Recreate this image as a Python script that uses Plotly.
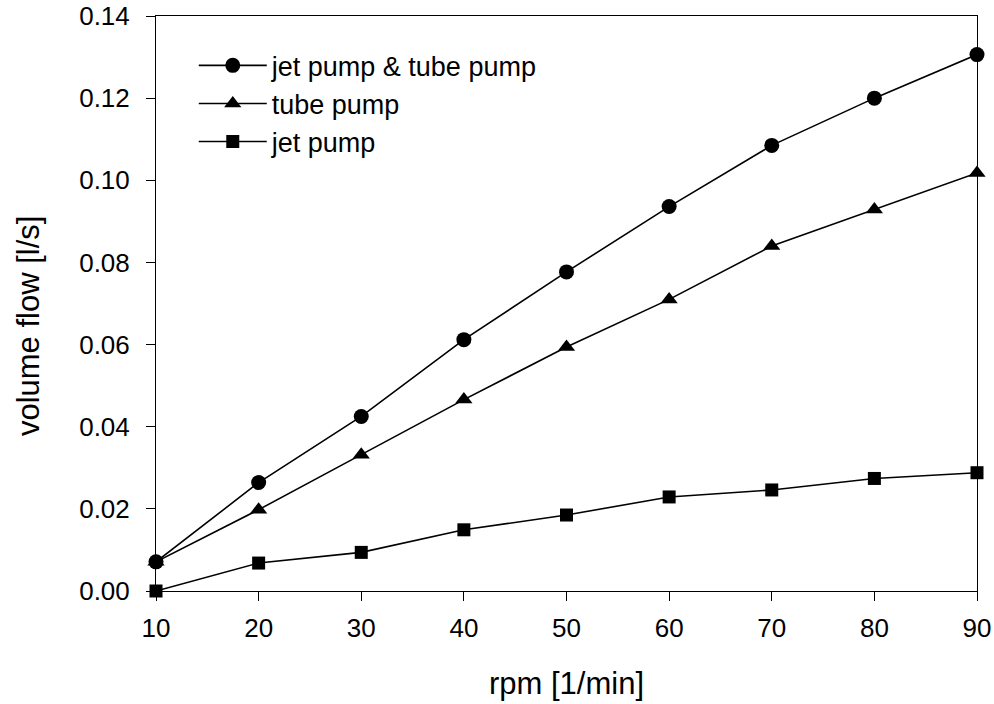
import plotly.graph_objects as go

# rotational speed [1/min]
rpm = [10, 20, 30, 40, 50, 60, 70, 80, 90]

# volume flow [l/s] for each pump configuration
flow_combined = [0.0071, 0.0264, 0.0425, 0.0612, 0.0777, 0.0936, 0.1085, 0.1200, 0.1306]
flow_tube = [0.0071, 0.0198, 0.0332, 0.0466, 0.0594, 0.0710, 0.0840, 0.0929, 0.1018]
flow_jet = [0.0000, 0.0068, 0.0094, 0.0149, 0.0185, 0.0229, 0.0246, 0.0274, 0.0288]

series_names = ["jet pump & tube pump", "tube pump", "jet pump"]
series_values = [flow_combined, flow_tube, flow_jet]
series_symbols = ["circle", "triangle-up", "square"]
series_sizes = [15, 15, 13]

x_ticks = [10, 20, 30, 40, 50, 60, 70, 80, 90]
y_ticks = [0.00, 0.02, 0.04, 0.06, 0.08, 0.10, 0.12, 0.14]

x_title = "rpm [1/min]"
y_title = "volume flow [l/s]"

FONT = "Liberation Sans, Arial, sans-serif"

fig = go.Figure()
for name, vals, sym, size in zip(series_names, series_values, series_symbols, series_sizes):
    fig.add_trace(go.Scatter(
        x=rpm, y=vals, name=name, mode="lines+markers",
        line=dict(color="black", width=1.6),
        marker=dict(symbol=sym, size=size, color="black", line=dict(width=0)),
        cliponaxis=False,
    ))

axis_common = dict(
    showline=True, linecolor="black", linewidth=1, mirror=True,
    ticks="outside", ticklen=9, tickcolor="black", tickwidth=1,
    showgrid=False, zeroline=False, automargin=False,
    tickfont=dict(family=FONT, size=26, color="black"),
)

fig.update_xaxes(
    range=[10, 90], tickvals=x_ticks, ticktext=[str(v) for v in x_ticks],
    ticklabelstandoff=5,
    **axis_common,
)
fig.update_yaxes(
    range=[0, 0.14], tickvals=y_ticks, ticktext=[f"{v:.2f}" for v in y_ticks],
    ticklabelstandoff=11,
    **axis_common,
)

# axis titles
fig.add_annotation(
    text=x_title, xref="paper", yref="paper", x=0.5, y=-0.16,
    xanchor="center", yanchor="middle", showarrow=False,
    font=dict(family=FONT, size=31, color="black"),
)
fig.add_annotation(
    text=y_title, xref="paper", yref="paper", x=-0.155, y=0.462,
    xanchor="center", yanchor="middle", showarrow=False, textangle=-90,
    font=dict(family=FONT, size=31, color="black"),
)

fig.update_layout(
    width=994, height=704,
    margin=dict(l=156, r=17, t=16, b=113),
    paper_bgcolor="white", plot_bgcolor="white",
    showlegend=True,
    legend=dict(
        x=0.046, y=0.956, xanchor="left", yanchor="top",
        bgcolor="rgba(0,0,0,0)", borderwidth=0,
        font=dict(family=FONT, size=27, color="black"),
        itemwidth=68, tracegroupgap=0,
    ),
    font=dict(family=FONT, color="black"),
)

fig.write_html("out.html")
